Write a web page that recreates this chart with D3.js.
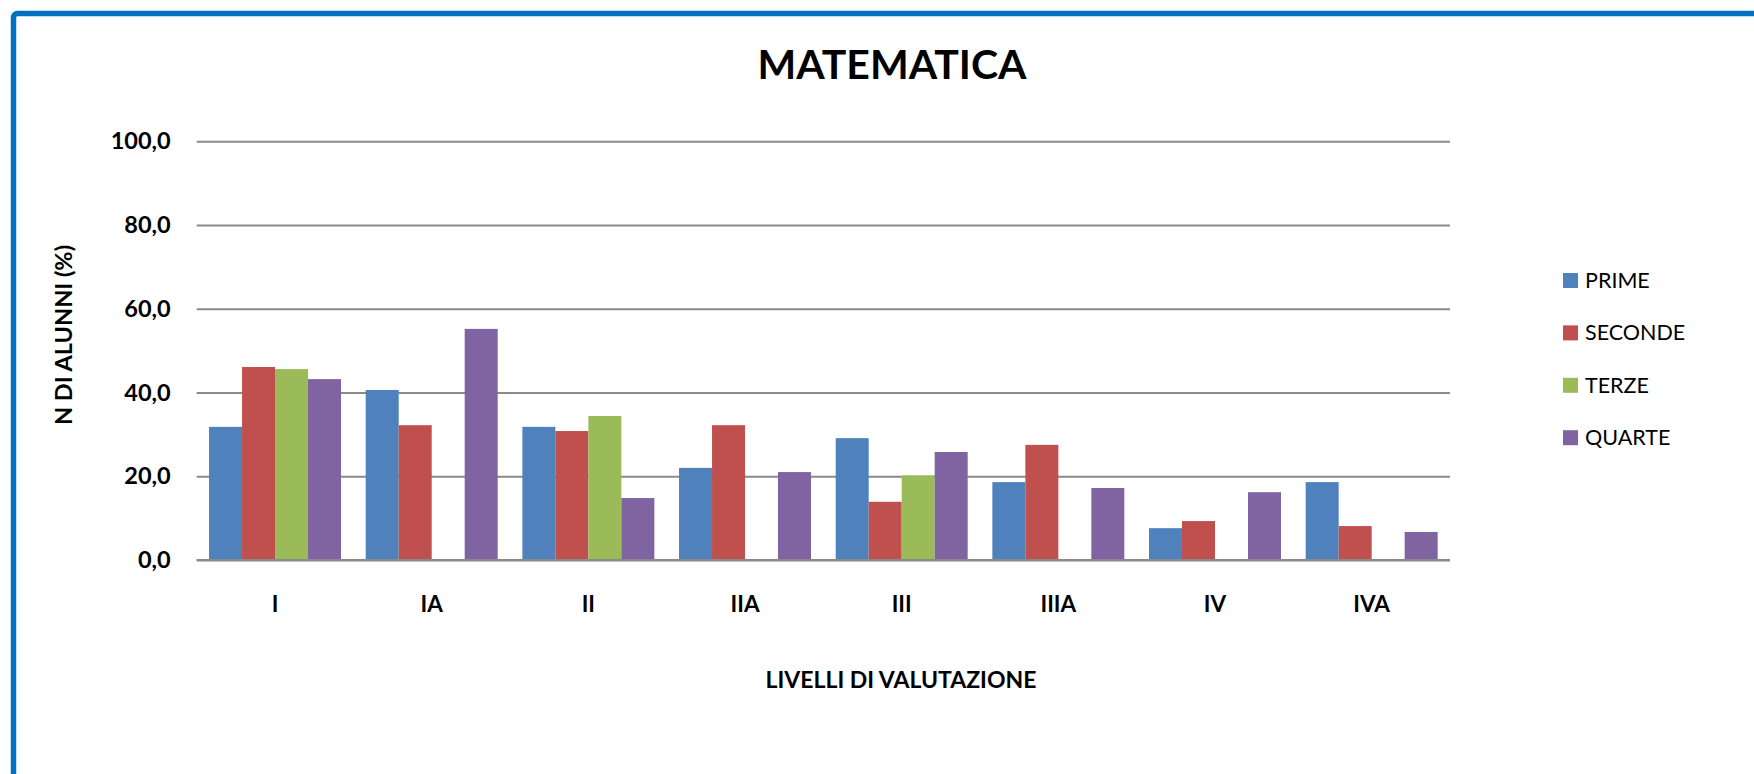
<!DOCTYPE html>
<html>
<head>
<meta charset="utf-8">
<style>
  body { margin: 0; background: #fff; }
  svg { display: block; font-family: Lato, "Open Sans", sans-serif; }
</style>
</head>
<body>
<svg width="1754" height="774"></svg>
<script src="https://d3js.org/d3.v7.min.js"></script>
<script>

var categories = ["I", "IA", "II", "IIA", "III", "IIIA", "IV", "IVA"];
var seriesNames = ["PRIME", "SECONDE", "TERZE", "QUARTE"];
var prime   = [31.8, 40.6, 31.8, 22.0, 29.1, 18.6, 7.6, 18.6];
var seconde = [46.1, 32.2, 30.8, 32.2, 13.9, 27.5, 9.3, 8.1];
var terze   = [45.6, 0, 34.4, 0, 20.2, 0, 0, 0];
var quarte  = [43.2, 55.2, 14.8, 21.0, 25.8, 17.2, 16.2, 6.7];
var yTicks  = [0, 20, 40, 60, 80, 100];

var colors = ["#4F81BD", "#C0504D", "#9BBB59", "#8064A2"];
var seriesValues = [prime, seconde, terze, quarte];

var svg = d3.select("svg"),
    width = +svg.attr("width"),
    height = +svg.attr("height");

// blue frame, only top and left edges visible
svg.append("rect")
    .attr("x", 13.5)
    .attr("y", 13.5)
    .attr("width", width + 40)
    .attr("height", height + 40)
    .attr("rx", 4)
    .attr("fill", "none")
    .attr("stroke", "#0070C0")
    .attr("stroke-width", 5.5);

var plotLeft = 196.7, plotRight = 1450, plotTop = 141.3, plotBottom = 560;

var x0 = d3.scaleBand()
    .domain(categories)
    .range([plotLeft, plotRight])
    .padding(0);

var gap = x0.bandwidth() * 0.0788;
var x1 = d3.scaleBand()
    .domain(seriesNames)
    .range([gap, x0.bandwidth() - gap])
    .padding(0);

var y = d3.scaleLinear()
    .domain([0, 100])
    .range([plotBottom, plotTop]);

// gridlines + y labels
var yAxis = svg.append("g")
    .attr("transform", "translate(" + plotLeft + ",0)")
    .call(d3.axisLeft(y)
        .tickValues(yTicks)
        .tickSize(-(plotRight - plotLeft))
        .tickPadding(26)
        .tickFormat(function(d) { return d3.format(".1f")(d).replace(".", ","); }));
yAxis.select(".domain").remove();
yAxis.selectAll("line")
    .attr("stroke", "#8a8a8a")
    .attr("stroke-width", 2);
yAxis.selectAll("text")
    .attr("font-family", "Lato, sans-serif")
    .attr("font-size", 23.5)
    .attr("font-weight", "bold")
    .attr("fill", "#000");

// bars
var rows = categories.map(function(c, i) {
  return seriesNames.map(function(s, j) {
    return { cat: c, series: s, value: seriesValues[j][i], color: colors[j] };
  });
});

svg.append("g")
  .selectAll("g")
  .data(rows)
  .enter().append("g")
    .attr("transform", function(d) { return "translate(" + x0(d[0].cat) + ",0)"; })
  .selectAll("rect")
  .data(function(d) { return d.filter(function(e) { return e.value > 0; }); })
  .enter().append("rect")
    .attr("x", function(d) { return x1(d.series); })
    .attr("y", function(d) { return y(d.value); })
    .attr("width", x1.bandwidth())
    .attr("height", function(d) { return y(0) - y(d.value); })
    .attr("fill", function(d) { return d.color; });

// baseline on top of bars
svg.append("line")
    .attr("x1", plotLeft)
    .attr("x2", plotRight)
    .attr("y1", y(0))
    .attr("y2", y(0))
    .attr("stroke", "#8a8a8a")
    .attr("stroke-width", 2);

// x axis labels
var xAxis = svg.append("g")
    .attr("transform", "translate(0," + plotBottom + ")")
    .call(d3.axisBottom(x0).tickSize(0).tickPadding(36));
xAxis.select(".domain").remove();
xAxis.selectAll("text")
    .attr("font-family", "Lato, sans-serif")
    .attr("font-size", 22.5)
    .attr("font-weight", "bold")
    .attr("fill", "#000");

// title
svg.append("text")
    .attr("x", 892)
    .attr("y", 79)
    .attr("text-anchor", "middle")
    .attr("font-size", 41)
    .attr("font-weight", "bold")
    .text("MATEMATICA");

// axis titles
svg.append("text")
    .attr("x", 901)
    .attr("y", 688)
    .attr("text-anchor", "middle")
    .attr("font-size", 23)
    .attr("font-weight", "bold")
    .text("LIVELLI DI VALUTAZIONE");

svg.append("text")
    .attr("transform", "translate(72,335) rotate(-90)")
    .attr("text-anchor", "middle")
    .attr("font-size", 23.5)
    .attr("font-weight", "bold")
    .text("N DI ALUNNI (%)");

// legend
var legend = svg.append("g")
    .selectAll("g")
    .data(seriesNames)
    .enter().append("g")
      .attr("transform", function(d, i) { return "translate(1563," + (273 + i * 52.4) + ")"; });

legend.append("rect")
    .attr("width", 15)
    .attr("height", 15)
    .attr("fill", function(d, i) { return colors[i]; });

legend.append("text")
    .attr("x", 22)
    .attr("y", 15)
    .attr("font-size", 21.5)
    .text(function(d) { return d; });

</script>
</body>
</html>
